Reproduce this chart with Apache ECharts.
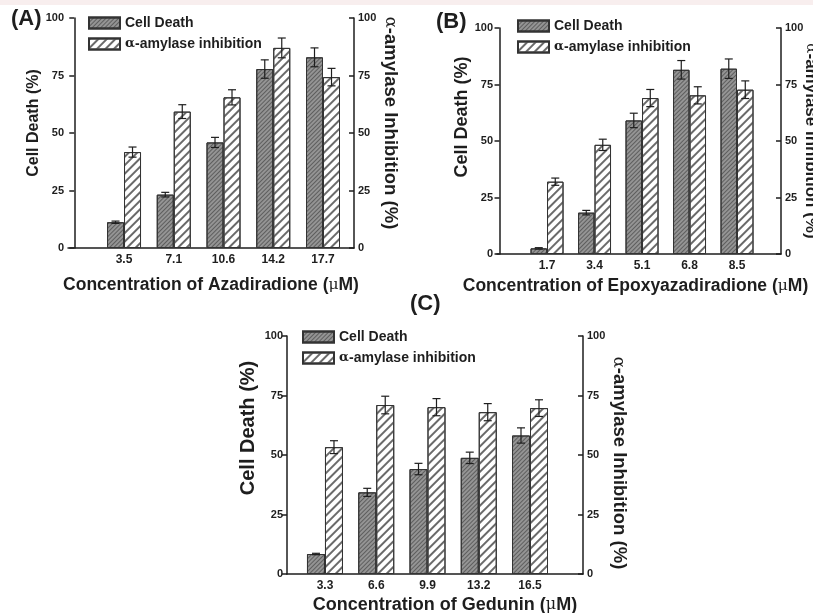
<!DOCTYPE html>
<html lang="en">
  <head>
    <meta charset="UTF-8" />
    <title>Cell Death and alpha-amylase inhibition</title>
    <style>
      html, body { margin: 0; padding: 0; background: #fff; }
      #chart { width: 813px; height: 613px; }
    </style>
    <script src="https://cdn.jsdelivr.net/npm/echarts@6/dist/echarts.min.js"></script>
  </head>
  <body>
    <div id="chart"></div>
    <script>
      // concentrations (uM) for each compound
      const catsA = ["3.5", "7.1", "10.6", "14.2", "17.7"];
      const catsB = ["1.7", "3.4", "5.1", "6.8", "8.5"];
      const catsC = ["3.3", "6.6", "9.9", "13.2", "16.5"];

      // cell death (%) and its error
      const deathA = [11.2, 23.2, 45.9, 77.8, 82.9];
      const deathErrA = [0.5, 1.0, 2.2, 4.0, 4.1];
      const deathB = [2.5, 18.3, 59.1, 81.5, 82.0];
      const deathErrB = [0.3, 1.0, 3.2, 4.1, 4.3];
      const deathC = [8.4, 34.3, 44.1, 48.8, 58.2];
      const deathErrC = [0.3, 1.7, 2.4, 2.4, 3.2];

      // alpha-amylase inhibition (%) and its error
      const inhibA = [41.7, 59.3, 65.5, 87.0, 74.3];
      const inhibErrA = [2.2, 3.0, 3.3, 4.3, 3.8];
      const inhibB = [32.0, 48.3, 69.0, 70.2, 72.7];
      const inhibErrB = [1.6, 2.5, 3.8, 3.8, 3.9];
      const inhibC = [53.3, 71.0, 70.1, 68.0, 69.7];
      const inhibErrC = [2.7, 3.7, 3.6, 3.6, 3.5];

      const FONT = "'Liberation Sans', Arial, sans-serif";
      const INK = "#1e1e1e";

      // layout per panel (positions, font sizes, nudges)
      const panels = [
        {
          cats: catsA, death: deathA, deathErr: deathErrA, inhib: inhibA, inhibErr: inhibErrA,
          compound: "Azadiradione",
          grid: { left: 68, top: 18, width: 286, height: 230 },
          xMin: -0.126, xMax: 5.623, barW: 17,
          legend: { left: 88, top: 16 },
          left: { gap: 25, size: 16, pad: [0, 0, 0, 20] },
          right: { gap: 27, size: 18.5, pad: [0, 20, 0, 0], move: true },
          bottom: { gap: 28, size: 17.5, pad: [0, 0, 0, 0] },
        },
        {
          cats: catsB, death: deathB, deathErr: deathErrB, inhib: inhibB, inhibErr: inhibErrB,
          compound: "Epoxyazadiradione",
          grid: { left: 497, top: 28, width: 284, height: 226 },
          xMin: -0.053, xMax: 5.926, barW: 16.5,
          legend: { left: 517, top: 19 },
          left: { gap: 26, size: 18, pad: [0, 0, 0, 48] },
          right: { gap: 21, size: 17, pad: [0, 0, 0, 0], move: false },
          bottom: { gap: 23, size: 17.5, pad: [0, 7, 0, 0] },
        },
        {
          cats: catsC, death: deathC, deathErr: deathErrC, inhib: inhibC, inhibErr: inhibErrC,
          compound: "Gedunin",
          grid: { left: 287, top: 336, width: 296, height: 238 },
          xMin: 0.259, xMax: 6.034, barW: 18,
          legend: { left: 302, top: 330 },
          left: { gap: 29, size: 20, pad: [0, 0, 0, 54] },
          right: { gap: 16, size: 18.5, pad: [0, 0, 0, 16], move: true },
          bottom: { gap: 22, size: 18, pad: [0, 0, 0, 20] },
        },
      ];

      function greek(size) {
        return { g: { fontFamily: "'DejaVu Serif', serif", fontWeight: "normal", fontSize: size - 2, color: INK } };
      }

      function errItem(dx, cap) {
        return function (params, api) {
          const x = api.value(0);
          const v = api.value(1);
          const e = api.value(2);
          const hi = api.coord([x, v + e]);
          const lo = api.coord([x, v - e]);
          const cx = hi[0] + dx;
          const st = { stroke: INK, lineWidth: 1.2 };
          return {
            type: "group",
            children: [
              { type: "line", shape: { x1: cx, y1: hi[1], x2: cx, y2: lo[1] }, style: st },
              { type: "line", shape: { x1: cx - cap, y1: hi[1], x2: cx + cap, y2: hi[1] }, style: st },
              { type: "line", shape: { x1: cx - cap, y1: lo[1], x2: cx + cap, y2: lo[1] }, style: st },
            ],
          };
        };
      }

      const deathStyle = {
        color: "#949494",
        borderColor: "#333",
        borderWidth: 1,
        decal: {
          symbol: "rect",
          color: "rgba(50,50,50,0.55)",
          dashArrayX: [1, 0],
          dashArrayY: [1, 2],
          rotation: -Math.PI / 4,
        },
      };
      const inhibStyle = {
        color: "#ffffff",
        borderColor: "#333",
        borderWidth: 1,
        decal: {
          symbol: "rect",
          color: "#6a6a6a",
          dashArrayX: [1, 0],
          dashArrayY: [1.5, 3.5],
          rotation: -Math.PI / 4,
        },
      };

      const grids = [], xAxes = [], yAxes = [], series = [], legends = [];

      panels.forEach(function (p, i) {
        grids.push(Object.assign({ outerBoundsMode: "none", containLabel: false }, p.grid));
        const idx = p.cats.map(function (c, k) { return k + 1; });
        xAxes.push({
          type: "value",
          gridIndex: i,
          min: p.xMin,
          max: p.xMax,
          axisLine: { show: true, lineStyle: { color: INK, width: 1.5 } },
          axisTick: { show: false },
          splitLine: { show: false },
          axisLabel: {
            customValues: idx,
            formatter: function (v) { return p.cats[Math.round(v) - 1] || ""; },
            fontFamily: FONT, fontWeight: "bold", fontSize: 12, color: INK, margin: 6,
          },
          name: "Concentration of " + p.compound + " ({g|μ}M)",
          nameLocation: "middle",
          nameGap: p.bottom.gap,
          nameTextStyle: {
            fontFamily: FONT, fontWeight: "bold", fontSize: p.bottom.size, color: INK,
            padding: p.bottom.pad, rich: greek(p.bottom.size),
          },
        });
        const yBase = {
          type: "value",
          gridIndex: i,
          min: 0, max: 100, interval: 25,
          axisLine: { show: true, lineStyle: { color: INK, width: 1.5 } },
          axisTick: { show: true, length: 5, lineStyle: { color: INK, width: 1.5 } },
          splitLine: { show: false },
          axisLabel: { fontFamily: FONT, fontWeight: "bold", fontSize: 11, color: INK, margin: 4 },
          nameLocation: "middle",
        };
        yAxes.push(Object.assign({}, yBase, {
          position: "left",
          name: "Cell Death (%)",
          nameGap: p.left.gap,
          nameTextStyle: {
            fontFamily: FONT, fontWeight: "bold", fontSize: p.left.size, color: INK, padding: p.left.pad,
          },
        }));
        yAxes.push(Object.assign({}, yBase, {
          position: "right",
          axisTick: { show: true, inside: true, length: 5, lineStyle: { color: INK, width: 1.5 } },
          name: "{g|α}-amylase Inhibition (%)",
          nameRotate: -90,
          nameGap: p.right.gap,
          nameMoveOverlap: p.right.move,
          nameTextStyle: {
            fontFamily: FONT, fontWeight: "bold", fontSize: p.right.size, color: INK,
            padding: p.right.pad, rich: greek(p.right.size),
          },
        }));

        const dData = p.death.map(function (v, k) { return [idx[k], v]; });
        const hData = p.inhib.map(function (v, k) { return [idx[k], v]; });
        series.push({
          name: "Cell Death", type: "bar",
          xAxisIndex: i, yAxisIndex: 2 * i,
          barWidth: p.barW, barGap: "0%",
          itemStyle: deathStyle, data: dData,
        });
        series.push({
          name: "α-amylase inhibition", type: "bar",
          xAxisIndex: i, yAxisIndex: 2 * i + 1,
          barWidth: p.barW, barGap: "0%",
          itemStyle: inhibStyle, data: hData,
        });
        series.push({
          type: "custom", xAxisIndex: i, yAxisIndex: 2 * i, z: 5, silent: true,
          renderItem: errItem(-p.barW / 2, 4),
          encode: { x: 0, y: 1 },
          data: p.death.map(function (v, k) { return [idx[k], v, p.deathErr[k]]; }),
        });
        series.push({
          type: "custom", xAxisIndex: i, yAxisIndex: 2 * i + 1, z: 5, silent: true,
          renderItem: errItem(p.barW / 2, 4),
          encode: { x: 0, y: 1 },
          data: p.inhib.map(function (v, k) { return [idx[k], v, p.inhibErr[k]]; }),
        });

        legends.push({
          data: ["Cell Death", "α-amylase inhibition"],
          left: p.legend.left, top: p.legend.top,
          orient: "vertical",
          padding: 0,
          itemWidth: 31, itemHeight: 11, itemGap: 7,
          icon: "rect",
          selectedMode: false,
          formatter: function (n) { return n === "Cell Death" ? n : "{g|α}-amylase inhibition"; },
          textStyle: {
            fontFamily: FONT, fontWeight: "bold", fontSize: 14, color: INK,
            rich: { g: { fontFamily: "'DejaVu Serif', serif", fontSize: 13, color: INK } },
          },
        });
      });

      const chart = echarts.init(document.getElementById("chart"), null, { renderer: "canvas" });
      chart.setOption({
        backgroundColor: "#ffffff",
        animation: false,
        graphic: [
          { type: "rect", left: 0, top: 0, shape: { width: 813, height: 5 }, style: { fill: "#f8eeee" } },
        ],
        title: [
          { text: "(A)", left: 11, top: 8, padding: 0, textStyle: { fontFamily: FONT, fontWeight: "bold", fontSize: 22, color: INK } },
          { text: "(B)", left: 436, top: 11, padding: 0, textStyle: { fontFamily: FONT, fontWeight: "bold", fontSize: 22, color: INK } },
          { text: "(C)", left: 410, top: 293, padding: 0, textStyle: { fontFamily: FONT, fontWeight: "bold", fontSize: 22, color: INK } },
        ],
        legend: legends,
        grid: grids,
        xAxis: xAxes,
        yAxis: yAxes,
        series: series,
      });
    </script>
  </body>
</html>
